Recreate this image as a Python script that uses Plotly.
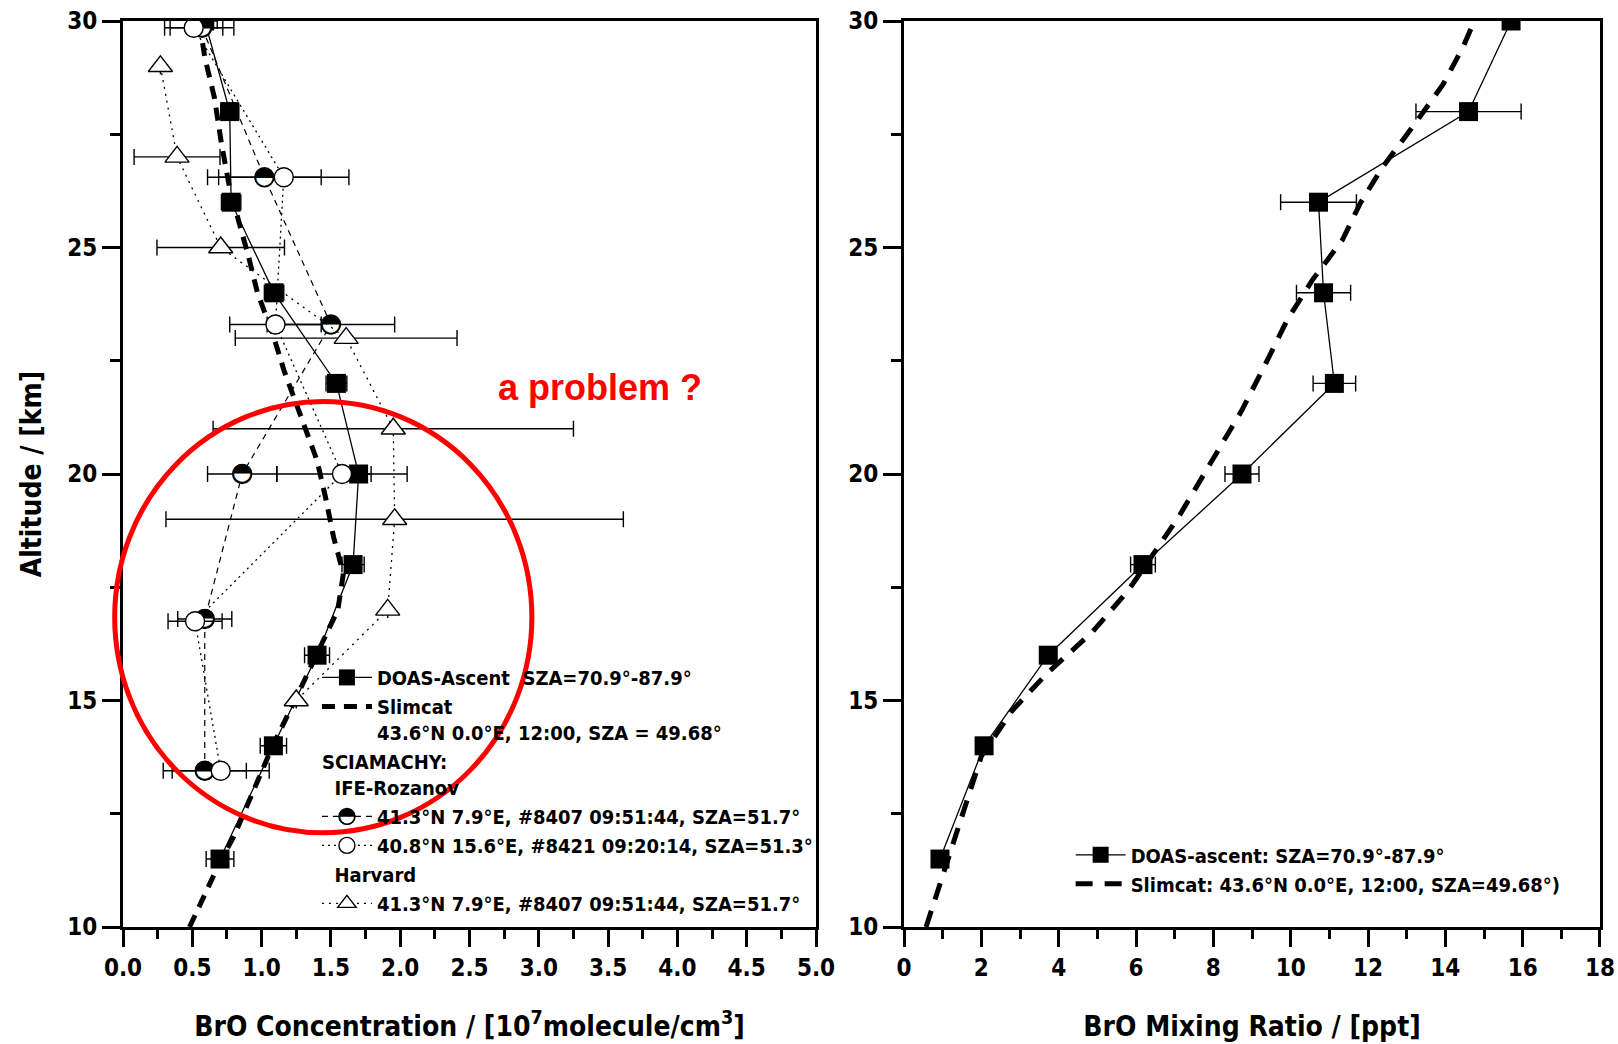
import plotly.graph_objects as go

# ---------------- data ----------------
# Left panel: BrO concentration [1e7 molecule/cm^3] vs altitude [km]
doas_alt = [30, 28, 26, 24, 22, 20, 18, 16, 14, 11.5]
doas_conc = [0.59, 0.77, 0.78, 1.09, 1.54, 1.70, 1.66, 1.40, 1.085, 0.70]
doas_conc_err = [0.09, 0.065, 0.07, 0.07, 0.075, 0.09, 0.08, 0.09, 0.095, 0.10]

slim_alt = [10, 11, 11.5, 12, 12.5, 13, 14, 15, 16, 17, 17.8, 18.6, 19.5, 20.3,
            21.3, 22.3, 23.1, 24, 24.75, 25.5, 26.3, 27.3, 28.3, 29.2, 30]
slim_conc = [0.48, 0.63, 0.71, 0.80, 0.87, 0.94, 1.08, 1.24, 1.40, 1.55, 1.59, 1.52,
             1.46, 1.40, 1.28, 1.16, 1.08, 0.97, 0.91, 0.84, 0.77, 0.71, 0.66, 0.59, 0.55]

ife8407_alt = [29.85, 26.55, 23.3, 20.0, 16.8, 13.45]
ife8407_conc = [0.57, 1.02, 1.50, 0.86, 0.59, 0.59]
ife8407_err = [0.23, 0.41, 0.46, 0.25, 0.195, 0.30]

ife8421_alt = [29.85, 26.55, 23.3, 20.0, 16.75, 13.45]
ife8421_conc = [0.51, 1.16, 1.10, 1.58, 0.52, 0.705]
ife8421_err = [0.21, 0.47, 0.33, 0.47, 0.195, 0.35]

harv_alt = [29, 27, 25, 23, 21, 19, 17, 15]
harv_conc = [0.27, 0.39, 0.705, 1.61, 1.95, 1.96, 1.91, 1.25]
harv_err = [0, 0.31, 0.46, 0.80, 1.30, 1.65, 0, 0]

# Right panel: BrO mixing ratio [ppt] vs altitude [km]
doas_mr = [15.7, 14.6, 10.72, 10.85, 11.13, 8.74, 6.18, 3.73, 2.07, 0.93]
doas_mr_err = [0.2, 1.36, 0.98, 0.70, 0.55, 0.44, 0.32, 0.20, 0.15, 0.12]

slim_mr_alt = [10.0, 11.18, 13.77, 14.77, 15.6, 16.52, 17.43, 19.05, 19.72, 21.41,
               22.5, 23.4, 24.28, 25.17, 25.98, 26.78, 27.67, 28.6, 29.43, 30.0]
slim_mr = [0.57, 1.02, 2.0, 2.79, 3.70, 4.88, 5.8, 7.1, 7.57, 8.74,
           9.39, 9.91, 10.56, 11.34, 11.8, 12.38, 13.16, 13.94, 14.46, 14.75]

x_left_range = [0, 5]
x_right_range = [0, 18]
y_range = [10, 30]

# red "problem" ellipse in data coordinates of the left panel
ell_x = [-0.06, 2.95]
ell_y = [12.08, 21.6]

# ---------------- style ----------------
FONT = "DejaVu Sans Condensed, Liberation Sans Narrow, Arial Narrow, Liberation Sans, Arial, sans-serif"
DOM_L = [0.0, 0.4692]
DOM_R = [0.5288, 1.0]

fig = go.Figure()

ebar = lambda arr: dict(type="data", array=arr, visible=True, color="black",
                        thickness=1.4, width=8)

fig.add_trace(go.Scatter(
    x=doas_conc, y=doas_alt, mode="lines+markers", name="DOAS-Ascent\u00a0\u00a0SZA=70.9°-87.9°",
    line=dict(color="black", width=1.3), marker=dict(symbol="square", size=19, color="black"),
    error_x=ebar(doas_conc_err), legendgroup="a", xaxis="x", yaxis="y"))

fig.add_trace(go.Scatter(
    x=slim_conc, y=slim_alt, mode="lines",
    name="Slimcat<br>43.6°N 0.0°E, 12:00, SZA = 49.68°",
    line=dict(color="black", width=5, dash="13px,9px"), legendgroup="a",
    xaxis="x", yaxis="y"))

fig.add_trace(go.Scatter(
    x=ife8407_conc, y=ife8407_alt, mode="lines+markers",
    name="41.3°N 7.9°E, #8407 09:51:44, SZA=51.7°",
    line=dict(color="black", width=1.2, dash="6px,5px"),
    marker=dict(symbol="circle", size=19, color="white", line=dict(color="black", width=1.4)),
    error_x=ebar(ife8407_err), legendgroup="sci",
    legendgrouptitle=dict(text="SCIAMACHY:<br>\u00a0\u00a0IFE-Rozanov",
                          font=dict(family=FONT, size=20, color="black", weight="bold")),
    xaxis="x", yaxis="y"))

# upper-half-black circle glyph on top of the #8407 points
fig.add_trace(go.Scatter(
    x=ife8407_conc, y=ife8407_alt, mode="text", text=["◓"] * len(ife8407_alt),
    textposition="middle center", textfont=dict(family="DejaVu Sans", size=25, color="black"),
    showlegend=False, hoverinfo="skip", xaxis="x", yaxis="y"))

fig.add_trace(go.Scatter(
    x=ife8421_conc, y=ife8421_alt, mode="lines+markers",
    name="40.8°N 15.6°E, #8421 09:20:14, SZA=51.3°",
    line=dict(color="black", width=1.3, dash="2px,4px"),
    marker=dict(symbol="circle", size=19, color="white", line=dict(color="black", width=1.4)),
    error_x=ebar(ife8421_err), legendgroup="sci", xaxis="x", yaxis="y"))

fig.add_trace(go.Scatter(
    x=harv_conc, y=harv_alt, mode="lines+markers",
    name="41.3°N 7.9°E, #8407 09:51:44, SZA=51.7°",
    line=dict(color="black", width=1.3, dash="2px,5px"),
    marker=dict(symbol="triangle-up", size=21, color="white", line=dict(color="black", width=1.4)),
    error_x=ebar(harv_err), legendgroup="harv",
    legendgrouptitle=dict(text="\u00a0\u00a0Harvard",
                          font=dict(family=FONT, size=20, color="black", weight="bold")),
    xaxis="x", yaxis="y"))

# right panel
fig.add_trace(go.Scatter(
    x=doas_mr, y=doas_alt, mode="lines+markers", name="DOAS-ascent: SZA=70.9°-87.9°",
    line=dict(color="black", width=1.3), marker=dict(symbol="square", size=19, color="black"),
    error_x=ebar(doas_mr_err), legend="legend2", xaxis="x2", yaxis="y2"))

fig.add_trace(go.Scatter(
    x=slim_mr, y=slim_mr_alt, mode="lines",
    name="Slimcat: 43.6°N 0.0°E, 12:00, SZA=49.68°)",
    line=dict(color="black", width=5, dash="17px,12px"), legend="legend2",
    xaxis="x2", yaxis="y2"))

# ---------------- axes ----------------
TICKFONT = dict(family=FONT, size=24, color="black", weight="bold")
TITLEFONT = dict(family=FONT, size=28, color="black", weight="bold")


def main_axis(rng, dtick, minor, domain=None, **kw):
    d = dict(range=rng, dtick=dtick, tick0=rng[0], ticks="outside", ticklen=17, tickwidth=3,
             tickcolor="black", minor=dict(dtick=minor, ticks="outside", ticklen=9,
                                           tickwidth=3, tickcolor="black"),
             showline=True, linewidth=3, linecolor="black", mirror=True,
             showgrid=False, zeroline=False, tickfont=TICKFONT, fixedrange=True,
             automargin=False)
    if domain is not None:
        d["domain"] = domain
    d.update(kw)
    return d


def inner_axis(rng, dtick, minor, **kw):
    d = dict(range=rng, dtick=dtick, tick0=rng[0], ticks="inside", ticklen=17, tickwidth=3,
             tickcolor="black", minor=dict(dtick=minor, ticks="inside", ticklen=9,
                                           tickwidth=3, tickcolor="black"),
             showline=False, showgrid=False, zeroline=False, showticklabels=False,
             fixedrange=True, automargin=False)
    d.update(kw)
    return d


fig.update_layout(
    xaxis=main_axis(x_left_range, 0.5, 0.25, DOM_L, anchor="y", tickformat=".1f",
                    title=dict(text="BrO Concentration / [10<sup>7</sup>molecule/cm<sup>3</sup>]",
                               font=TITLEFONT, standoff=36)),
    yaxis=main_axis(y_range, 5, 2.5, [0, 1], anchor="x",
                    title=dict(text="Altitude / [km]", font=TITLEFONT, standoff=18)),
    xaxis2=main_axis(x_right_range, 2, 1, DOM_R, anchor="y2",
                     title=dict(text="BrO Mixing Ratio / [ppt]", font=TITLEFONT, standoff=36)),
    yaxis2=main_axis(y_range, 5, 2.5, [0, 1], anchor="x2"),
    xaxis3=inner_axis(x_left_range, 0.5, 0.25, overlaying="x", side="top", anchor="y"),
    yaxis3=inner_axis(y_range, 5, 2.5, overlaying="y", side="right", anchor="x"),
    xaxis4=inner_axis(x_right_range, 2, 1, overlaying="x2", side="top", anchor="y2"),
    yaxis4=inner_axis(y_range, 5, 2.5, overlaying="y2", side="right", anchor="x2"),
)

fig.update_yaxes(ticklen=18, selector=dict(ticks="outside"))
fig.update_yaxes(minor_ticklen=10, selector=dict(ticks="outside"))

# ---------------- legends ----------------
LEGFONT = dict(family=FONT, size=20, color="black", weight="bold")
fig.update_layout(
    legend=dict(x=0.1313, y=0.297, xanchor="left", yanchor="top", bgcolor="rgba(0,0,0,0)",
                borderwidth=0, font=LEGFONT, itemwidth=50, tracegroupgap=0,
                traceorder="grouped", valign="top"),
    legend2=dict(x=0.6416, y=0.1012, xanchor="left", yanchor="top", bgcolor="rgba(0,0,0,0)",
                 borderwidth=0, font=LEGFONT, itemwidth=50, tracegroupgap=0, valign="top"),
)

# ---------------- annotations / shapes ----------------
def to_paper_x(v, dom, rng):
    return dom[0] + (v - rng[0]) / (rng[1] - rng[0]) * (dom[1] - dom[0])


def to_paper_y(v, rng):
    return (v - rng[0]) / (rng[1] - rng[0])


fig.add_shape(type="circle", xref="paper", yref="paper",
              x0=to_paper_x(ell_x[0], DOM_L, x_left_range), x1=to_paper_x(ell_x[1], DOM_L, x_left_range),
              y0=to_paper_y(ell_y[0], y_range), y1=to_paper_y(ell_y[1], y_range),
              line=dict(color="#ff0000", width=5), layer="above")

fig.add_annotation(x=3.44, y=21.9, xref="x", yref="y", text="a problem ?", showarrow=False,
                   font=dict(family="Liberation Sans, Arial, sans-serif", size=36,
                             color="#ff0000", weight="bold"))

# half-black glyph for the #8407 legend symbol
fig.add_annotation(x=(346 - 123) / 1477, y=(927 - 818) / 906, xref="paper", yref="paper",
                   text="◓", showarrow=False, xshift=-10, yshift=-11,
                   font=dict(family="DejaVu Sans", size=21, color="black"))

fig.update_layout(
    width=1618, height=1044,
    margin=dict(l=123, r=18, t=21, b=117, autoexpand=False),
    paper_bgcolor="white", plot_bgcolor="white",
    showlegend=True,
)

fig.write_html("out.html")
